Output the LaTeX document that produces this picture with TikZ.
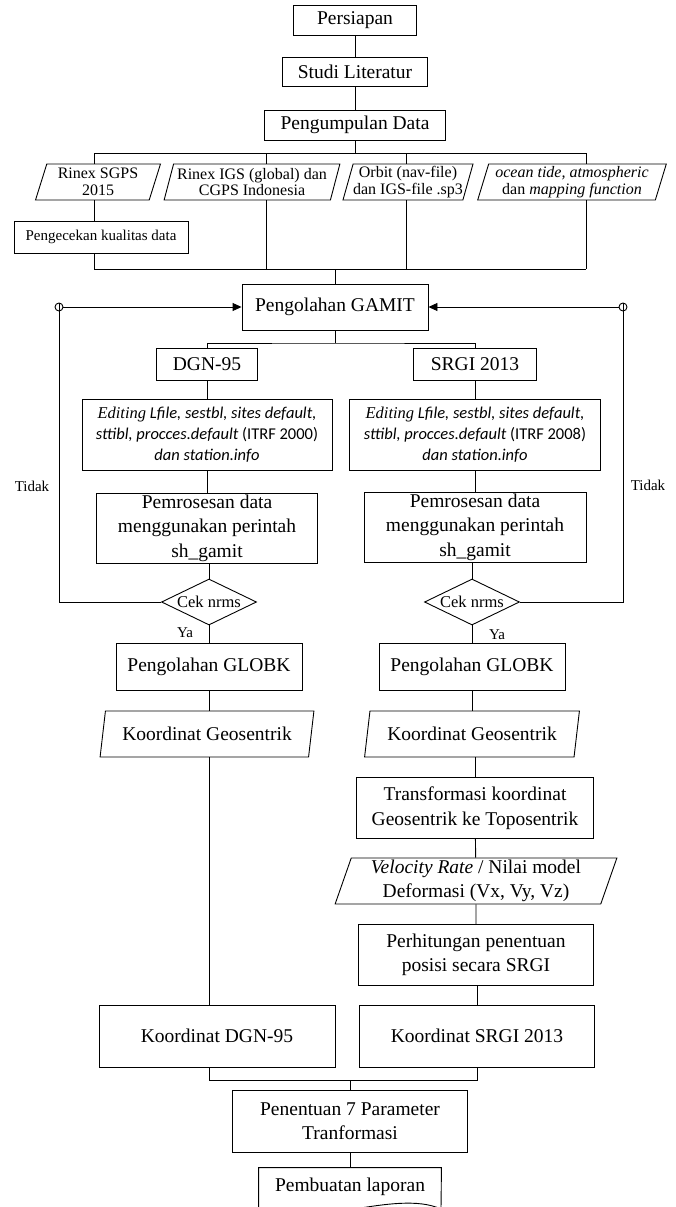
\documentclass[tikz,border=0pt]{standalone}
\usepackage{fontspec}
\setmainfont{Liberation Serif}
\newfontfamily\edfont{Carlito}
\usetikzlibrary{shapes.geometric,arrows.meta}

\begin{document}
\begin{tikzpicture}[x=1pt,y=-1pt,line width=0.9pt,
  box/.style={draw,align=center,inner sep=1pt,font=\fontsize{19.5}{24.5}\selectfont},
  data/.style={draw,trapezium,trapezium left angle=72,trapezium right angle=108,trapezium stretches=true,align=center,inner sep=0pt},
  small/.style={font=\fontsize{16}{16.5}\selectfont},
  big/.style={font=\fontsize{19.5}{24}\selectfont},
  edit/.style={draw,align=center,inner sep=1pt,font=\edfont\itshape\fontsize{16.5}{21}\selectfont},
  cek/.style={draw,diamond,aspect=2,inner sep=0pt,minimum width=95,minimum height=46,font=\fontsize{16.5}{18}\selectfont},
  lbl/.style={font=\fontsize{15}{16}\selectfont},
  dot/.style={draw,circle,inner sep=0pt,minimum size=8},
  tip/.style={-{Triangle[length=9pt,width=8pt]}}]
  \useasboundingbox (0,0) rectangle (676,1207);
  \clip (0,0) rectangle (676,1207);

  % persiapan sampai pengumpulan data
  \node[box,minimum width=123,minimum height=30] (persiapan) at (355,20) {Persiapan};
  \node[box,minimum width=145,minimum height=29] (studi) at (355,72) {Studi Literatur};
  \node[box,minimum width=181,minimum height=30] (kumpul) at (355,125) {Pengumpulan Data};
  \draw (persiapan) -- (studi);
  \draw (studi) -- (kumpul);

  % data masukan
  \node[data,small,minimum width=126,minimum height=36] (rsgps) at (98,182) {Rinex SGPS\\2015};
  \node[data,small,minimum width=176,minimum height=36] (rigs) at (252,182) {Rinex IGS (global) dan\\CGPS Indonesia};
  \node[data,small,minimum width=130,minimum height=36] (orbit) at (408,182) {Orbit (nav-file)\\dan IGS-file .sp3};
  \node[data,small,minimum width=189,minimum height=36] (tide) at (572,182) {\textit{ocean tide, atmospheric}\\dan \textit{mapping function}};
  \node[box,font=\fontsize{15}{17}\selectfont,minimum width=174,minimum height=32] (kualitas) at (101,237) {Pengecekan kualitas data};

  \coordinate (b1) at (355,153);
  \coordinate (d1) at (94,153);
  \coordinate (d2) at (266,153);
  \coordinate (d3) at (406,153);
  \coordinate (d4) at (586,153);
  \draw (kumpul) -- (b1);
  \draw (d1) -- (d4);
  \draw (d1) -- (d1 |- rsgps.north);
  \draw (d2) -- (d2 |- rigs.north);
  \draw (d3) -- (d3 |- orbit.north);
  \draw (d4) -- (d4 |- tide.north);
  \draw (d1 |- rsgps.south) -- (d1 |- kualitas.north);

  \coordinate (c1) at (94,269);
  \coordinate (c4) at (586,269);
  \coordinate (c0) at (335,269);
  \draw (d1 |- kualitas.south) -- (c1) -- (c4);
  \draw (d2 |- rigs.south) -- (d2 |- c1);
  \draw (d3 |- orbit.south) -- (d3 |- c1);
  \draw (d4 |- tide.south) -- (c4);

  % pengolahan GAMIT
  \node[box,minimum width=186,minimum height=46] (gamit) at (335,307) {Pengolahan GAMIT};
  \draw (c0) -- (gamit);
  \node[box,minimum width=101,minimum height=32] (dgn) at (207,364) {DGN-95};
  \node[box,minimum width=123,minimum height=32] (srgi) at (475,364) {SRGI 2013};
  \coordinate (sp) at (335,343);
  \draw (gamit) -- (sp);
  \draw (dgn.north) |- (sp) -| (srgi.north);

  \node[edit,minimum width=250,minimum height=71] (edita) at (207,435) {{\rmfamily Editing} Lfile, sestbl, sites default,\\sttibl, procces.default {\upshape(ITRF 2000)}\\dan station.info};
  \node[edit,minimum width=251,minimum height=71] (editb) at (475,435) {{\rmfamily Editing} Lfile, sestbl, sites default,\\sttibl, procces.default {\upshape(ITRF 2008)}\\dan station.info};
  \draw (dgn) -- (edita);
  \draw (srgi) -- (editb);

  \node[box,minimum width=221,minimum height=70] (prosesa) at (207,528) {Pemrosesan data\\menggunakan perintah\\sh\_gamit};
  \node[box,minimum width=222,minimum height=70] (prosesb) at (475,527) {Pemrosesan data\\menggunakan perintah\\sh\_gamit};
  \draw (edita) -- (prosesa);
  \draw (editb) -- (prosesb);

  \node[cek] (ceka) at (209,602) {Cek nrms};
  \node[cek] (cekb) at (472,602) {Cek nrms};
  \draw (ceka.north) -- (ceka.north |- prosesa.south);
  \draw (cekb.north) -- (cekb.north |- prosesb.south);

  % umpan balik
  \node[dot] (ja) at (59,307) {};
  \node[dot] (jb) at (623,307) {};
  \draw (ceka.west) -| (ja.north);
  \draw[tip] (ja) -- (gamit);
  \draw (cekb.east) -| (jb.north);
  \draw[tip] (jb) -- (gamit);
  \node[lbl] (tidaka) at (32,486) {Tidak};
  \node[lbl] (tidakb) at (648,485) {Tidak};
  \node[lbl] (yaa) at (185,633) {Ya};
  \node[lbl] (yab) at (497,635) {Ya};

  % pengolahan GLOBK
  \node[box,minimum width=186,minimum height=47] (globka) at (209,667) {Pengolahan GLOBK};
  \node[box,minimum width=186,minimum height=47] (globkb) at (472,667) {Pengolahan GLOBK};
  \draw (ceka) -- (globka);
  \draw (cekb) -- (globkb);
  \node[data,big,minimum width=214,minimum height=46] (geoa) at (207,734) {Koordinat Geosentrik};
  \node[data,big,minimum width=215,minimum height=46] (geob) at (472,734) {Koordinat Geosentrik};
  \draw (globka.south) -- (globka.south |- geoa.north);
  \draw (globkb) -- (geob);

  % cabang SRGI 2013
  \node[box,minimum width=237,minimum height=61] (transf) at (475,808) {Transformasi koordinat\\Geosentrik ke Toposentrik};
  \node[data,big,minimum width=282,minimum height=46] (velo) at (476,881) {\textit{Velocity Rate} / Nilai model\\Deformasi (Vx, Vy, Vz)};
  \node[box,minimum width=235,minimum height=61] (hitung) at (476,955) {Perhitungan penentuan\\posisi secara SRGI};
  \draw (transf.north) -- (transf.north |- geob.south);
  \draw (transf) -- (velo);
  \draw (velo) -- (hitung);

  % hasil
  \node[box,minimum width=236,minimum height=62] (kdgn) at (217,1036) {Koordinat DGN-95};
  \node[box,minimum width=235,minimum height=62] (ksrgi) at (477,1036) {Koordinat SRGI 2013};
  \draw (globka.south |- geoa.south) -- (globka.south |- kdgn.north);
  \draw (hitung.south -| ksrgi.north) -- (ksrgi.north);
  \coordinate (mg) at (350,1080);
  \draw (globka.south |- kdgn.south) |- (mg);
  \draw (ksrgi) |- (mg);

  \node[box,minimum width=235,minimum height=62] (tentu) at (350,1121) {Penentuan 7 Parameter\\Tranformasi};
  \draw (mg) -- (tentu);
  \node[box,draw=none,minimum width=182,minimum height=38] (lapor) at (350,1187) {Pembuatan laporan};
  \draw (tentu) -- (lapor.north);
  \draw (lapor.north east) -- (lapor.north west) -- ++(0,41) .. controls (305,1232) and (395,1188) .. (441,1209) -- cycle;
\end{tikzpicture}
\end{document}
